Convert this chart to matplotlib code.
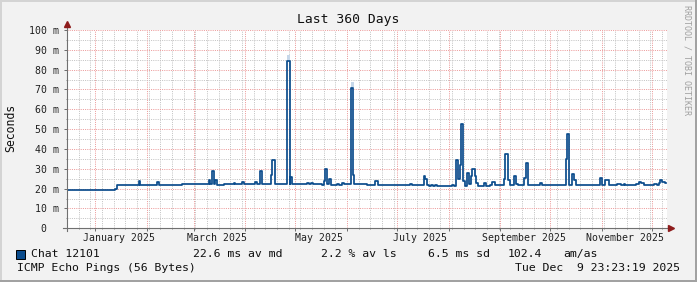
import pandas as pd
import matplotlib
matplotlib.use('Agg')
import matplotlib.pyplot as plt
import matplotlib.dates as mdates
from matplotlib.ticker import MultipleLocator, FuncFormatter
from matplotlib.patches import Rectangle

# median rtt (ms), one value per step, held until the next date
step_dates = [
    "2024-12-14 23:23", "2025-01-13", "2025-01-14", "2025-01-27", "2025-01-28",
    "2025-02-07", "2025-02-08", "2025-02-22", "2025-03-10", "2025-03-11",
    "2025-03-12", "2025-03-13", "2025-03-14", "2025-03-15", "2025-03-19",
    "2025-03-25", "2025-03-26", "2025-03-30", "2025-03-31", "2025-04-07",
    "2025-04-08", "2025-04-10", "2025-04-11", "2025-04-16 12:00", "2025-04-17",
    "2025-04-19", "2025-04-26", "2025-04-27 12:00", "2025-04-28", "2025-04-29",
    "2025-05-08", "2025-05-09", "2025-05-10 12:00", "2025-05-11 12:00", "2025-05-17",
    "2025-05-18", "2025-05-19", "2025-05-20", "2025-05-21", "2025-05-22 12:00",
    "2025-05-26", "2025-05-27", "2025-05-29", "2025-05-30", "2025-06-03 12:00",
    "2025-06-04 12:00", "2025-06-05", "2025-06-13", "2025-06-18", "2025-06-19 12:00",
    "2025-07-09", "2025-07-10", "2025-07-17", "2025-07-18", "2025-07-19",
    "2025-07-20", "2025-07-21 12:00", "2025-07-22 12:00", "2025-07-24", "2025-07-25",
    "2025-08-03", "2025-08-04", "2025-08-05 12:00", "2025-08-06 12:00", "2025-08-07 12:00",
    "2025-08-08 12:00", "2025-08-09 12:00", "2025-08-10 12:00", "2025-08-12", "2025-08-13",
    "2025-08-14 12:00", "2025-08-15", "2025-08-16 12:00", "2025-08-17 12:00", "2025-08-18 12:00",
    "2025-08-22", "2025-08-23 12:00", "2025-08-26", "2025-08-27", "2025-08-28 12:00",
    "2025-09-03", "2025-09-04", "2025-09-05 12:00", "2025-09-06 12:00", "2025-09-09",
    "2025-09-10 12:00", "2025-09-11 12:00", "2025-09-15", "2025-09-16 12:00", "2025-09-17 12:00",
    "2025-09-25", "2025-09-26", "2025-10-10 12:00", "2025-10-11", "2025-10-12",
    "2025-10-14", "2025-10-15", "2025-10-16 12:00", "2025-10-31", "2025-11-01",
    "2025-11-03", "2025-11-05", "2025-11-10", "2025-11-12 12:00", "2025-11-14",
    "2025-11-15", "2025-11-21 12:00", "2025-11-23", "2025-11-24 12:00", "2025-11-26",
    "2025-12-02", "2025-12-04", "2025-12-05", "2025-12-06", "2025-12-07",
    "2025-12-08 12:00",
]
median_ms = [
    19.1, 19.8, 21.8, 23.9, 21.8,
    23.3, 21.8, 22.3, 24.4, 22.5,
    29.0, 22.5, 24.4, 21.8, 22.5,
    23.0, 22.5, 23.3, 22.5, 23.3,
    22.5, 29.0, 22.5, 27.0, 34.3,
    22.5, 84.4, 22.5, 26.0, 22.5,
    22.9, 22.5, 22.8, 22.5, 22.0,
    24.0, 29.9, 22.5, 24.7, 22.0,
    22.5, 22.0, 22.9, 22.5, 70.7,
    26.9, 22.5, 22.0, 24.0, 21.8,
    22.3, 21.6, 26.4, 24.7, 21.8,
    21.3, 21.8, 21.3, 21.8, 21.3,
    22.0, 21.3, 34.4, 24.7, 31.8,
    52.6, 23.8, 21.3, 27.7, 22.2,
    26.4, 29.7, 26.4, 22.9, 21.3,
    23.0, 21.3, 22.0, 23.3, 22.0,
    24.7, 37.5, 24.5, 22.0, 26.4,
    22.2, 22.0, 25.2, 33.1, 22.0,
    23.0, 21.7, 34.8, 47.4, 21.7,
    27.2, 24.4, 21.7, 25.2, 21.7,
    24.4, 21.7, 22.1, 21.7, 22.1,
    21.7, 22.1, 23.3, 22.6, 21.7,
    22.1, 21.7, 22.6, 24.4, 23.3,
    22.6,
]
last_date = "2025-12-09 06:00"

# smoke (spread of pings) only shows above the two tallest spikes
smoke_dates = ["2025-04-26", "2025-06-03 12:00"]
smoke_low = [84.4, 70.7]
smoke_high = [87.4, 73.6]

label_dates = ["2025-01-15", "2025-03-15", "2025-05-15",
               "2025-07-15", "2025-09-15", "2025-11-15"]
label_names = ["January 2025", "March 2025", "May 2025",
               "July 2025", "September 2025", "November 2025"]

t_start = pd.Timestamp("2024-12-14 23:23:19")
t_end = pd.Timestamp("2025-12-09 23:23:19")

mono = "DejaVu Sans Mono"
line_blue = "#0b4c8c"
W, H = 697, 282

fig = plt.figure(figsize=(W / 100, H / 100), dpi=100, facecolor="#f2f2f2")
ax = fig.add_axes([67 / W, (H - 228.3) / H, 600 / W, 198.3 / H])
ax.set_facecolor("white")

x = pd.to_datetime(step_dates + [last_date], format="ISO8601")
y = median_ms + [median_ms[-1]]
ax.step(x, y, where="post", color=line_blue, lw=1.25, zorder=4)

sm_x = pd.to_datetime(smoke_dates, format="ISO8601")
ax.bar(sm_x, [h - l for h, l in zip(smoke_high, smoke_low)], bottom=smoke_low,
       width=1.7, align="edge", color="#c7d8ea", zorder=3)

ax.set_xlim(t_start, t_end)
ax.set_ylim(0, 100)

# grid: weeks / months, 5 m / 10 m
ax.xaxis.set_major_locator(mdates.MonthLocator())
ax.xaxis.set_minor_locator(mdates.WeekdayLocator(byweekday=mdates.SU))
ax.yaxis.set_major_locator(MultipleLocator(10))
ax.yaxis.set_minor_locator(MultipleLocator(5))
ax.grid(which="minor", color="#c4c4c4", ls=(0, (1, 1.2)), lw=0.72)
ax.grid(which="major", color="#ec9a9a", ls=(0, (1, 1.2)), lw=0.72)
ax.set_axisbelow(True)

ax.yaxis.set_major_formatter(FuncFormatter(lambda v, p: "0  " if v == 0 else "%d m" % v))
ax.tick_params(axis="y", which="major", length=2, width=0.72, color="#707070",
               pad=4, labelsize=7.1, labelcolor="#202020")
ax.tick_params(axis="x", which="major", length=2, width=0.72, color="#707070",
               labelbottom=False)
ax.tick_params(which="minor", length=1, width=0.72, color="#909090")
for lab in ax.get_yticklabels():
    lab.set_family(mono)

for s in ax.spines.values():
    s.set_visible(False)

# axis lines with the little red arrows
ax.plot([0, 0], [-0.012, 1.03], transform=ax.transAxes, color="#707070",
        lw=0.8, clip_on=False, zorder=5)
ax.plot([-0.007, 1.004], [0, 0], transform=ax.transAxes, color="#707070",
        lw=0.8, clip_on=False, zorder=5)
ax.plot(0, 1.03, marker="^", ms=3.8, color="#8e1c1c", transform=ax.transAxes,
        clip_on=False, zorder=6)
ax.plot(1.0065, 0, marker=">", ms=3.8, color="#8e1c1c", transform=ax.transAxes,
        clip_on=False, zorder=6)

for d, name in zip(label_dates, label_names):
    ax.text(pd.Timestamp(d), -0.047, name, transform=ax.get_xaxis_transform(),
            ha="center", va="center", family=mono, fontsize=7.1, color="#202020")

# texts around the plot
def px(xp, yp):
    return xp / W, 1 - yp / H

fig.text(*px(348.5, 19.3), "Last 360 Days", ha="center", va="center",
         family=mono, fontsize=9.4, color="#101010")
fig.text(*px(11, 128), "Seconds", ha="center", va="center", rotation=90,
         family=mono, fontsize=8.3, color="#101010")
fig.text(*px(687, 60), "RRDTOOL / TOBI OETIKER", ha="center", va="center",
         rotation=270, family=mono, fontsize=6, color="#a0a0a0")

fig.patches.append(Rectangle(px(15.5, 258.5), 9.5 / W, 8.5 / H, transform=fig.transFigure,
                             facecolor=line_blue, edgecolor="black", lw=0.7))
legend_bits = [(30.7, "Chat 12101"), (193.3, "22.6 ms av md"), (321, "2.2 % av ls"),
               (428.3, "6.5 ms sd"), (507.3, "102.4"), (563.3, "am/as")]
for xp, txt in legend_bits:
    fig.text(*px(xp, 254.3), txt, ha="left", va="center", family=mono,
             fontsize=8.25, color="#101010")
fig.text(*px(16.7, 267.7), "ICMP Echo Pings (56 Bytes)", ha="left", va="center",
         family=mono, fontsize=8.25, color="#101010")
fig.text(*px(680, 267.7), "Tue Dec  9 23:23:19 2025", ha="right", va="center",
         family=mono, fontsize=8.25, color="#101010")

# 3d-ish frame
fig.patches.append(Rectangle((0, 1 - 2 / H), 1, 2 / H, transform=fig.transFigure,
                             facecolor="#d4d4d4", lw=0))
fig.patches.append(Rectangle((0, 0), 2 / W, 1, transform=fig.transFigure,
                             facecolor="#d4d4d4", lw=0))
fig.patches.append(Rectangle((0, 0), 1, 2 / H, transform=fig.transFigure,
                             facecolor="#a2a2a2", lw=0))
fig.patches.append(Rectangle((1 - 2 / W, 0), 2 / W, 1, transform=fig.transFigure,
                             facecolor="#a2a2a2", lw=0))

fig.savefig("out.png", dpi=100, facecolor=fig.get_facecolor())
